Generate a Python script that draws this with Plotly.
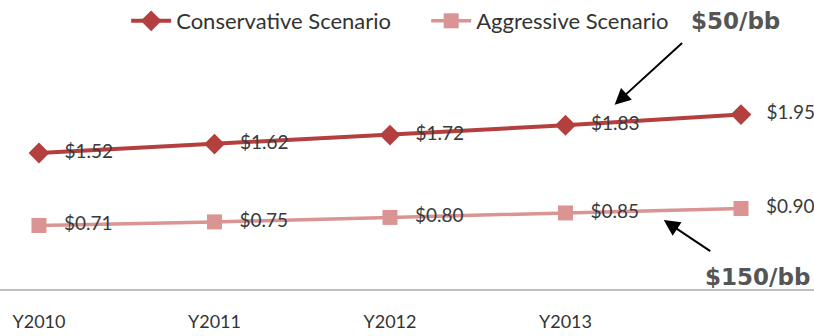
import plotly.graph_objects as go

# Cost per unit under two oil-price scenarios
years = ["Y2010", "Y2011", "Y2012", "Y2013", "Y2014"]
tick_labels = ["Y2010", "Y2011", "Y2012", "Y2013"]
conservative = [1.52, 1.62, 1.72, 1.83, 1.95]
aggressive = [0.71, 0.75, 0.80, 0.85, 0.90]

x_idx = list(range(len(years)))
label_font = dict(family="Lato", size=19, color="#3a3a3a")
pad = "\u00a0\u00a0\u00a0"

fig = go.Figure()
fig.add_trace(go.Scatter(
    x=x_idx, y=conservative, name="Conservative Scenario",
    mode="lines+markers+text",
    line=dict(color="#B3403E", width=4),
    marker=dict(symbol="diamond", size=16, color="#B3403E"),
    text=[f"{pad}${v:.2f}" for v in conservative],
    textposition="middle right", textfont=label_font,
))
fig.add_trace(go.Scatter(
    x=x_idx, y=aggressive, name="Aggressive Scenario",
    mode="lines+markers+text",
    line=dict(color="#D99493", width=3.5),
    marker=dict(symbol="square", size=15, color="#D99493"),
    text=[f"{pad}${v:.2f}" for v in aggressive],
    textposition="middle right", textfont=label_font,
))

# Callout arrows pointing at each scenario line
arrow = dict(showarrow=True, arrowhead=2, arrowsize=1.6, arrowwidth=2,
             arrowcolor="#000000", axref="pixel", ayref="pixel", text="")
fig.add_annotation(x=3.28, y=2.06, ax=69, ay=-63, **arrow)
fig.add_annotation(x=3.56, y=0.77, ax=48, ay=32, **arrow)

callout_font = dict(family="DejaVu Sans", size=23, color="#555555")
fig.add_annotation(x=0.903, y=0.927, xref="paper", yref="paper",
                   xanchor="center", yanchor="middle",
                   text="<b>$50/bb</b>", showarrow=False, font=callout_font)
fig.add_annotation(x=0.93, y=0.042, xref="paper", yref="paper",
                   xanchor="center", yanchor="middle",
                   text="<b>$150/bb</b>", showarrow=False, font=callout_font)

fig.update_layout(
    width=814, height=336,
    margin=dict(l=0, r=0, t=0, b=47, autoexpand=False),
    paper_bgcolor="white", plot_bgcolor="white",
    showlegend=True,
    legend=dict(orientation="h", x=0.155, y=1.0, xanchor="left", yanchor="top",
                font=dict(family="Lato", size=22, color="#333333"),
                bgcolor="rgba(0,0,0,0)", itemwidth=40, entrywidth=245),
    xaxis=dict(range=[-0.222, 4.416], tickvals=[0, 1, 2, 3], ticktext=tick_labels,
               showgrid=False, zeroline=False, showline=True, linecolor="#BFBFBF",
               linewidth=2, ticks="", ticklabelstandoff=15, automargin=False,
               tickfont=dict(family="Lato", size=18, color="#333333")),
    yaxis=dict(range=[0, 3.23], visible=False, automargin=False),
)

fig.write_html("out.html")
